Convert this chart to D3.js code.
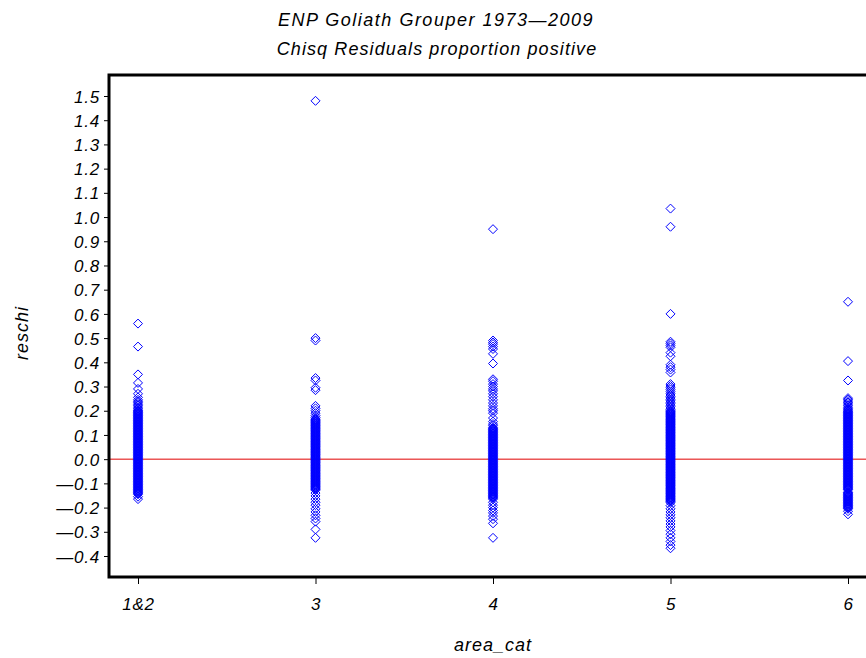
<!DOCTYPE html>
<html>
<head>
<meta charset="utf-8">
<script src="https://cdn.jsdelivr.net/npm/d3@7"></script>
<style>
  body { margin: 0; background: #fff; }
  text { font-family: "Liberation Sans", Arial, sans-serif; font-style: italic; fill: #000; }
</style>
</head>
<body>
<div id="chart"></div>
<script>
// categories and tick labels
var cats = ["1&2", "3", "4", "5", "6"];
var yTicks = [-0.4, -0.3, -0.2, -0.1, 0, 0.1, 0.2, 0.3, 0.4, 0.5, 0.6, 0.7, 0.8, 0.9, 1.0, 1.1, 1.2, 1.3, 1.4, 1.5];

// reschi values per area_cat
var reschi12 = [0.56, 0.465, 0.35, 0.315, 0.29, 0.27, 0.255, 0.245, 0.239, 0.233, 0.227, 0.221, 0.215, 0.209, 0.203,
    0.2, 0.197, 0.194, 0.191, 0.188, 0.185, 0.182, 0.179, 0.176, 0.173, 0.17, 0.167, 0.164, 0.161, 0.158, 0.155,
    0.152, 0.149, 0.146, 0.143, 0.14, 0.137, 0.134, 0.131, 0.128, 0.125, 0.122, 0.119, 0.116, 0.113, 0.11, 0.107,
    0.104, 0.101, 0.098, 0.095, 0.092, 0.089, 0.086, 0.083, 0.08, 0.077, 0.074, 0.071, 0.068, 0.065, 0.062, 0.059,
    0.056, 0.053, 0.05, 0.047, 0.044, 0.041, 0.038, 0.035, 0.032, 0.029, 0.026, 0.023, 0.02, 0.017, 0.014, 0.011,
    0.008, 0.005, 0.002, -0.001, -0.004, -0.007, -0.01, -0.013, -0.016, -0.019, -0.022, -0.025, -0.028, -0.031,
    -0.034, -0.037, -0.04, -0.043, -0.046, -0.049, -0.052, -0.055, -0.058, -0.061, -0.064, -0.067, -0.07, -0.073,
    -0.076, -0.079, -0.082, -0.085, -0.088, -0.091, -0.094, -0.097, -0.1, -0.103, -0.106, -0.109, -0.112, -0.115,
    -0.118, -0.121, -0.124, -0.127, -0.13, -0.133, -0.136, -0.139, -0.142, -0.145, -0.155, -0.165];
var reschi3 = [1.48, 0.5, 0.49, 0.335, 0.325, 0.295, 0.285, 0.22, 0.21, 0.2, 0.19, 0.18, 0.172,
    0.166, 0.163, 0.16, 0.157, 0.154, 0.151, 0.148, 0.145, 0.142, 0.139, 0.136, 0.133, 0.13, 0.127, 0.124, 0.121,
    0.118, 0.115, 0.112, 0.109, 0.106, 0.103, 0.1, 0.097, 0.094, 0.091, 0.088, 0.085, 0.082, 0.079, 0.076, 0.073,
    0.07, 0.067, 0.064, 0.061, 0.058, 0.055, 0.052, 0.049, 0.046, 0.043, 0.04, 0.037, 0.034, 0.031, 0.028, 0.025,
    0.022, 0.019, 0.016, 0.013, 0.01, 0.007, 0.004, 0.001, -0.002, -0.005, -0.008, -0.011, -0.014, -0.017, -0.02,
    -0.023, -0.026, -0.029, -0.032, -0.035, -0.038, -0.041, -0.044, -0.047, -0.05, -0.053, -0.056, -0.059, -0.062,
    -0.065, -0.068, -0.071, -0.074, -0.077, -0.08, -0.083, -0.086, -0.089, -0.092, -0.095, -0.098, -0.101, -0.104,
    -0.107, -0.11, -0.113, -0.116, -0.119, -0.122, -0.125, -0.128,
    -0.14, -0.152, -0.165, -0.178, -0.19, -0.205, -0.218, -0.232, -0.245, -0.258, -0.29, -0.325];
var reschi4 = [0.95, 0.49, 0.482, 0.475, 0.465, 0.455, 0.435, 0.395, 0.33, 0.322, 0.31, 0.3, 0.29, 0.282,
    0.27, 0.258, 0.245, 0.232, 0.22, 0.208, 0.2, 0.19, 0.17, 0.155, 0.145, 0.138,
    0.13, 0.127, 0.124, 0.121, 0.118, 0.115, 0.112, 0.109, 0.106, 0.103, 0.1, 0.097, 0.094, 0.091, 0.088, 0.085,
    0.082, 0.079, 0.076, 0.073, 0.07, 0.067, 0.064, 0.061, 0.058, 0.055, 0.052, 0.049, 0.046, 0.043, 0.04, 0.037,
    0.034, 0.031, 0.028, 0.025, 0.022, 0.019, 0.016, 0.013, 0.01, 0.007, 0.004, 0.001, -0.002, -0.005, -0.008,
    -0.011, -0.014, -0.017, -0.02, -0.023, -0.026, -0.029, -0.032, -0.035, -0.038, -0.041, -0.044, -0.047, -0.05,
    -0.053, -0.056, -0.059, -0.062, -0.065, -0.068, -0.071, -0.074, -0.077, -0.08, -0.083, -0.086, -0.089, -0.092,
    -0.095, -0.098, -0.101, -0.104, -0.107, -0.11, -0.113, -0.116, -0.119, -0.122, -0.125, -0.128, -0.131, -0.134,
    -0.137, -0.14, -0.143, -0.146, -0.149, -0.152, -0.155, -0.158, -0.161, -0.165,
    -0.178, -0.19, -0.2, -0.212, -0.222, -0.235, -0.248, -0.265, -0.325];
var reschi5 = [1.035, 0.96, 0.6, 0.485, 0.478, 0.47, 0.462, 0.44, 0.425, 0.39, 0.38, 0.37, 0.358, 0.31,
    0.302, 0.295, 0.288, 0.28, 0.272, 0.265, 0.259, 0.253, 0.247, 0.241, 0.235, 0.229, 0.223, 0.217, 0.211, 0.205,
    0.2, 0.197, 0.194, 0.191, 0.188, 0.185, 0.182, 0.179, 0.176, 0.173, 0.17, 0.167, 0.164, 0.161, 0.158, 0.155,
    0.152, 0.149, 0.146, 0.143, 0.14, 0.137, 0.134, 0.131, 0.128, 0.125, 0.122, 0.119, 0.116, 0.113, 0.11, 0.107,
    0.104, 0.101, 0.098, 0.095, 0.092, 0.089, 0.086, 0.083, 0.08, 0.077, 0.074, 0.071, 0.068, 0.065, 0.062, 0.059,
    0.056, 0.053, 0.05, 0.047, 0.044, 0.041, 0.038, 0.035, 0.032, 0.029, 0.026, 0.023, 0.02, 0.017, 0.014, 0.011,
    0.008, 0.005, 0.002, -0.001, -0.004, -0.007, -0.01, -0.013, -0.016, -0.019, -0.022, -0.025, -0.028, -0.031,
    -0.034, -0.037, -0.04, -0.043, -0.046, -0.049, -0.052, -0.055, -0.058, -0.061, -0.064, -0.067, -0.07, -0.073,
    -0.076, -0.079, -0.082, -0.085, -0.088, -0.091, -0.094, -0.097, -0.1, -0.103, -0.106, -0.109, -0.112, -0.115,
    -0.118, -0.121, -0.124, -0.127, -0.13, -0.133, -0.136, -0.139, -0.142, -0.145, -0.148, -0.151, -0.154, -0.157,
    -0.16, -0.163, -0.166, -0.169, -0.172, -0.175, -0.18,
    -0.192, -0.205, -0.218, -0.23, -0.242, -0.255, -0.268, -0.28, -0.295, -0.31, -0.325, -0.34, -0.355, -0.368];
var reschi6 = [0.65, 0.405, 0.325, 0.252, 0.246, 0.24, 0.234, 0.228, 0.222, 0.215, 0.21, 0.205,
    0.2, 0.197, 0.194, 0.191, 0.188, 0.185, 0.182, 0.179, 0.176, 0.173, 0.17, 0.167, 0.164, 0.161, 0.158, 0.155,
    0.152, 0.149, 0.146, 0.143, 0.14, 0.137, 0.134, 0.131, 0.128, 0.125, 0.122, 0.119, 0.116, 0.113, 0.11, 0.107,
    0.104, 0.101, 0.098, 0.095, 0.092, 0.089, 0.086, 0.083, 0.08, 0.077, 0.074, 0.071, 0.068, 0.065, 0.062, 0.059,
    0.056, 0.053, 0.05, 0.047, 0.044, 0.041, 0.038, 0.035, 0.032, 0.029, 0.026, 0.023, 0.02, 0.017, 0.014, 0.011,
    0.008, 0.005, 0.002, -0.001, -0.004, -0.007, -0.01, -0.013, -0.016, -0.019, -0.022, -0.025, -0.028, -0.031,
    -0.034, -0.037, -0.04, -0.043, -0.046, -0.049, -0.052, -0.055, -0.058, -0.061, -0.064, -0.067, -0.07, -0.073,
    -0.076, -0.079, -0.082, -0.085, -0.088, -0.091, -0.094, -0.097, -0.1, -0.103, -0.106, -0.109, -0.112, -0.115,
    -0.118, -0.121, -0.124, -0.127, -0.136, -0.139, -0.142, -0.145, -0.148, -0.151, -0.154, -0.157, -0.16, -0.163,
    -0.166, -0.169, -0.172, -0.175, -0.178, -0.181, -0.184, -0.187, -0.19, -0.193, -0.196, -0.199, -0.202, -0.205,
    -0.215, -0.228];

var series = [reschi12, reschi3, reschi4, reschi5, reschi6];
var points = [];
series.forEach(function(vals, i) {
    vals.forEach(function(v) { points.push({ cat: cats[i], v: v }); });
});

var W = 866, H = 658;
var frame = { left: 109, top: 75, right: 880, bottom: 577 };

var svg = d3.select("#chart").append("svg")
    .attr("width", W)
    .attr("height", H);

svg.append("rect").attr("width", W).attr("height", H).attr("fill", "#fff");

var x = d3.scalePoint().domain(cats).range([138, 848]);
var y = d3.scaleLinear().domain([-0.4, 1.5]).range([556, 96]);

// titles
svg.append("text").attr("x", 436).attr("y", 26).attr("text-anchor", "middle")
    .style("font-size", "18px").style("letter-spacing", "1.5px")
    .text("ENP Goliath Grouper 1973\u20142009");
svg.append("text").attr("x", 437).attr("y", 55).attr("text-anchor", "middle")
    .style("font-size", "18px").style("letter-spacing", "1.1px")
    .text("Chisq Residuals proportion positive");

// y axis - long dash for negatives like the original
var yAxis = d3.axisLeft(y).tickValues(yTicks).tickSize(5).tickPadding(4)
    .tickFormat(function(d) { return d3.format(".1f")(d).replace(/[-\u2212]/, "\u2014"); });
var gy = svg.append("g").attr("transform", "translate(" + frame.left + ",0)").call(yAxis);
gy.select(".domain").remove();
gy.selectAll("text").style("font-size", "17px").style("font-family", null)
    .style("letter-spacing", "0.8px").attr("dy", "0.36em");

// x axis
var xAxis = d3.axisBottom(x).tickSize(7).tickPadding(14);
var gx = svg.append("g").attr("transform", "translate(0," + frame.bottom + ")").call(xAxis);
gx.select(".domain").remove();
gx.selectAll("text").style("font-size", "17px").style("font-family", null).style("letter-spacing", "0.8px");

// axis labels
svg.append("text").attr("x", 493).attr("y", 651).attr("text-anchor", "middle")
    .style("font-size", "18px").style("letter-spacing", "1px").text("area_cat");
svg.append("text").attr("transform", "translate(28,333) rotate(-90)").attr("text-anchor", "middle")
    .style("font-size", "18px").style("letter-spacing", "1px").text("reschi");

// reference line at zero
svg.append("line")
    .attr("x1", frame.left).attr("x2", W)
    .attr("y1", y(0)).attr("y2", y(0))
    .attr("stroke", "#e00000").attr("stroke-width", 1);

// points
var diamond = "M0,-4.5L4.5,0L0,4.5L-4.5,0Z";
svg.append("g").selectAll("path")
    .data(points)
    .enter().append("path")
    .attr("d", diamond)
    .attr("transform", function(d) { return "translate(" + x(d.cat) + "," + y(d.v) + ")"; })
    .attr("fill", "none")
    .attr("stroke", "#0000ff")
    .attr("stroke-width", 1);

// frame
svg.append("rect")
    .attr("x", frame.left).attr("y", frame.top)
    .attr("width", frame.right - frame.left).attr("height", frame.bottom - frame.top)
    .attr("fill", "none").attr("stroke", "#000").attr("stroke-width", 3);
</script>
</body>
</html>
